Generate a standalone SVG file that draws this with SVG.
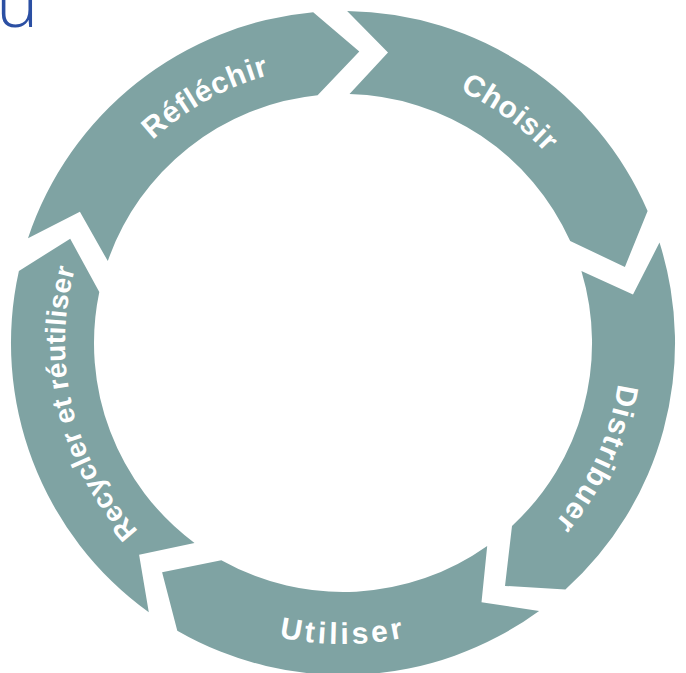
<svg xmlns="http://www.w3.org/2000/svg" xmlns:xlink="http://www.w3.org/1999/xlink" width="686" height="673" viewBox="0 0 686 673">
<defs>
<style>
.seg{fill:#7FA3A3;stroke:none}
.lbl{fill:#ffffff;font-family:"Liberation Sans",Arial,Helvetica,sans-serif;font-weight:bold;font-size:30px}
.top{fill:#2B4FA3;font-family:"Open Sans","Lato","Inter",sans-serif;font-weight:300;font-size:72px}
</style>
<path id="cw" d="M343,65 A278,278 0 1 1 343,621 A278,278 0 1 1 343,65"/>
<path id="ccw" d="M42,343 A301,301 0 0 0 644,343"/>
</defs>
<rect width="686" height="673" fill="#ffffff"/>
<text class="top" x="-4" y="27">u</text>
<g id="connectors"></g>
<g id="reflechir">
<path class="seg" d="M28.0,238.2 A332,332 0 0 1 313.2,12.3 L359.3,51.5 L317.6,95.3 A249,249 0 0 0 107.8,261.1 L79.9,211.8 Z"/>
<text class="lbl" letter-spacing="0.75"><textPath xlink:href="#cw" href="#cw" startOffset="1536.6">Réfléchir</textPath></text>
</g>
<g id="choisir">
<path class="seg" d="M347.1,11.0 A332,332 0 0 1 647.6,210.9 L624.9,266.9 L570.2,241.1 A249,249 0 0 0 349.5,94.1 L388.0,52.5 Z"/>
<text class="lbl" letter-spacing="0.55"><textPath xlink:href="#cw" href="#cw" startOffset="120.3">Choisir</textPath></text>
</g>
<g id="distribuer">
<path class="seg" d="M659.5,242.6 A332,332 0 0 1 565.4,589.5 L505.0,585.9 L512.0,525.9 A249,249 0 0 0 581.4,271.0 L633.0,294.5 Z"/>
<text class="lbl" letter-spacing="1.4"><textPath xlink:href="#cw" href="#cw" startOffset="477.4">Distribuer</textPath></text>
</g>
<g id="utiliser">
<path class="seg" d="M539.1,610.9 A332,332 0 0 1 177.3,630.7 L162.1,572.2 L221.3,560.2 A249,249 0 0 0 487.2,546.0 L481.5,602.3 Z"/>
<text class="lbl" letter-spacing="3.4"><textPath xlink:href="#ccw" href="#ccw" startOffset="408.2">Utiliser</textPath></text>
</g>
<g id="recycler">
<path class="seg" d="M148.8,612.3 A332,332 0 0 1 18.9,270.9 L70.2,238.8 L99.3,291.9 A249,249 0 0 0 194.5,542.9 L139.1,554.8 Z"/>
<text class="lbl" letter-spacing="0.3" style="font-size:28px"><textPath xlink:href="#cw" href="#cw" startOffset="1102.9">Recycler et réutiliser</textPath></text>
</g>
</svg>
